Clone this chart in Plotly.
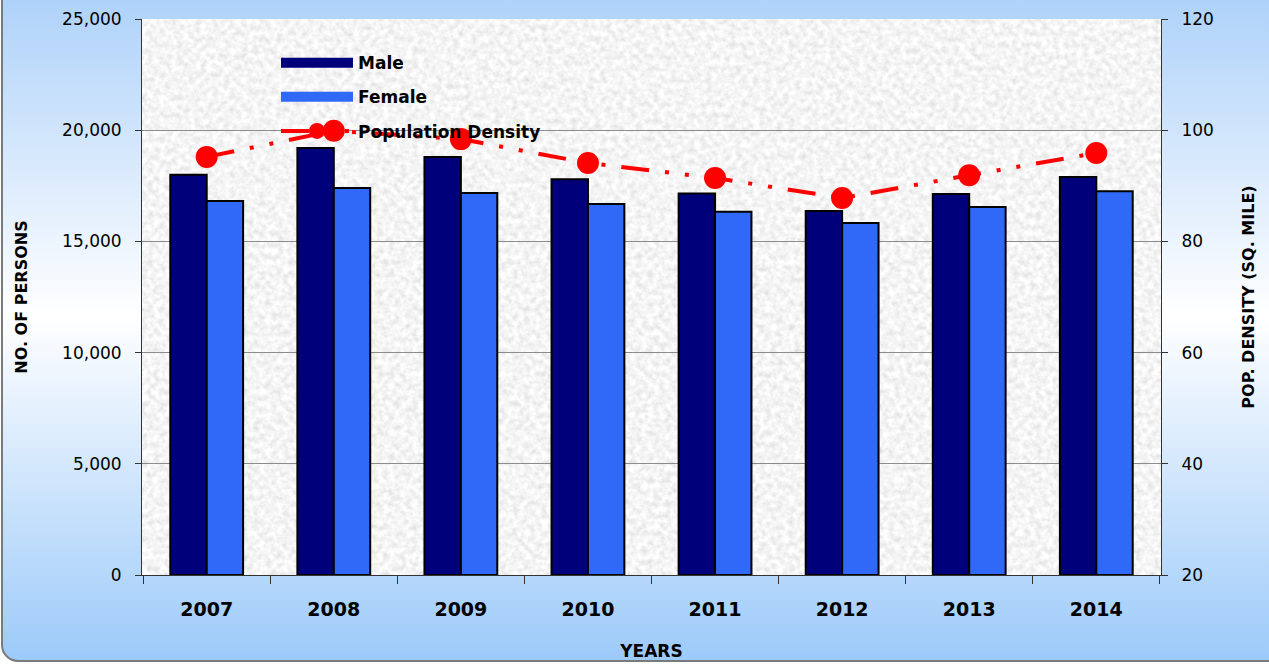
import base64
import plotly.graph_objects as go

years = ["2007", "2008", "2009", "2010", "2011", "2012", "2013", "2014"]
male = [18000, 19200, 18800, 17800, 17150, 16370, 17130, 17900]
female = [16820, 17400, 17180, 16680, 16330, 15830, 16550, 17250]
density = [95.2, 99.9, 98.4, 94.1, 91.4, 87.8, 91.9, 95.9]

W, H = 1269, 664
ML, MR, MT, MB = 142, 108, 19, 89
PW, PH = W - ML - MR, H - MT - MB

MALE_C = "#00007a"
FEMALE_C = "#3068f8"


def data_uri(svg):
    return "data:image/svg+xml;base64," + base64.b64encode(svg.encode()).decode()


bg_svg = f"""<svg xmlns='http://www.w3.org/2000/svg' width='{W}' height='{H}'>
<defs><linearGradient id='g' x1='0' y1='0' x2='0' y2='1'>
<stop offset='0' stop-color='#a7cef9'/>
<stop offset='0.5' stop-color='#ffffff'/>
<stop offset='1' stop-color='#9ccaf9'/>
</linearGradient></defs>
<rect x='2' y='-30' width='{W + 40}' height='{H + 30 - 3}' rx='16' ry='16' fill='url(#g)' stroke='#7a7a7a' stroke-width='2'/>
</svg>"""

tex_svg = f"""<svg xmlns='http://www.w3.org/2000/svg' width='{PW}' height='{PH}'>
<filter id='n' x='0' y='0' width='100%' height='100%'>
<feTurbulence type='fractalNoise' baseFrequency='0.17' numOctaves='4' seed='7'/>
<feColorMatrix type='matrix' values='0.42 0 0 0 0.70  0.42 0 0 0 0.70  0.42 0 0 0 0.70  0 0 0 0 1'/>
</filter>
<rect width='{PW}' height='{PH}' fill='#eeeeee'/>
<rect width='{PW}' height='{PH}' filter='url(#n)'/>
</svg>"""

fig = go.Figure()
fig.add_trace(go.Bar(
    x=years, y=male, name="Male", legendgroup="m", showlegend=False,
    marker=dict(color=MALE_C, line=dict(color="#000000", width=2)),
))
fig.add_trace(go.Bar(
    x=years, y=female, name="Female", legendgroup="f", showlegend=False,
    marker=dict(color=FEMALE_C, line=dict(color="#000000", width=2)),
))
fig.add_trace(go.Scatter(
    x=years, y=density, name="<b>Population Density</b>", yaxis="y2",
    legendgroup="d", legendrank=3,
    mode="lines+markers",
    line=dict(color="#ff0000", width=4, dash="28px,16px,4px,16px,4px,16px"),
    marker=dict(color="#ff0000", size=22),
))
# legend keys for the bar series (wide bar-shaped keys)
fig.add_trace(go.Scatter(
    x=[None], y=[None], name="<b>Male</b>", legendgroup="m", legendrank=1,
    mode="lines", line=dict(color=MALE_C, width=14),
))
fig.add_trace(go.Scatter(
    x=[None], y=[None], name="<b>Female</b>", legendgroup="f", legendrank=2,
    mode="lines", line=dict(color=FEMALE_C, width=14),
))

fig.update_layout(
    width=W, height=H,
    margin=dict(l=ML, r=MR, t=MT, b=MB, autoexpand=False),
    paper_bgcolor="#ffffff",
    plot_bgcolor="rgba(0,0,0,0)",
    barmode="group", bargap=0.427, bargroupgap=0,
    font=dict(family="DejaVu Sans, Verdana, sans-serif", color="#000000"),
    images=[
        dict(source=data_uri(bg_svg), xref="paper", yref="paper",
             x=-ML / PW, y=1 + MT / PH, sizex=W / PW, sizey=H / PH,
             xanchor="left", yanchor="top", sizing="stretch", layer="below"),
        dict(source=data_uri(tex_svg), xref="paper", yref="paper",
             x=0, y=1, sizex=1, sizey=1,
             xanchor="left", yanchor="top", sizing="stretch", layer="below"),
    ],
    xaxis=dict(
        title=dict(text="<b>YEARS</b>", font=dict(size=17), standoff=26),
        tickfont=dict(size=19), automargin=False,
        tickprefix="<b>", ticksuffix="</b>",
        ticklabelstandoff=17,
        showline=True, linecolor="#333333", linewidth=1,
        ticks="outside", ticklen=8, tickcolor="#333333", tickson="boundaries",
        showgrid=False, mirror=False,
    ),
    yaxis=dict(
        title=dict(text="<b>NO. OF PERSONS</b>", font=dict(size=16), standoff=30),
        range=[0, 25000], dtick=5000, tickformat=",", automargin=False,
        tickfont=dict(size=17), ticklabelstandoff=10,
        showline=True, linecolor="#333333", linewidth=1,
        ticks="outside", ticklen=6, tickcolor="#333333",
        showgrid=True, gridcolor="#8c8c8c", gridwidth=1,
        zeroline=False,
    ),
    yaxis2=dict(
        title=dict(text="<b>POP. DENSITY (SQ. MILE)</b>", font=dict(size=16), standoff=29),
        overlaying="y", side="right", automargin=False,
        range=[20, 120], dtick=20,
        tickfont=dict(size=17), ticklabelstandoff=10,
        showline=True, linecolor="#333333", linewidth=1,
        ticks="outside", ticklen=6, tickcolor="#333333",
        showgrid=False, zeroline=False,
    ),
    legend=dict(
        x=0.1315, y=0.953, xanchor="left", yanchor="top",
        bgcolor="rgba(0,0,0,0)", borderwidth=0,
        font=dict(size=17), itemwidth=72, tracegroupgap=9,
        traceorder="grouped",
    ),
)

fig.write_html("out.html", config={"displayModeBar": False},
               post_script="document.body.style.margin='0';")
